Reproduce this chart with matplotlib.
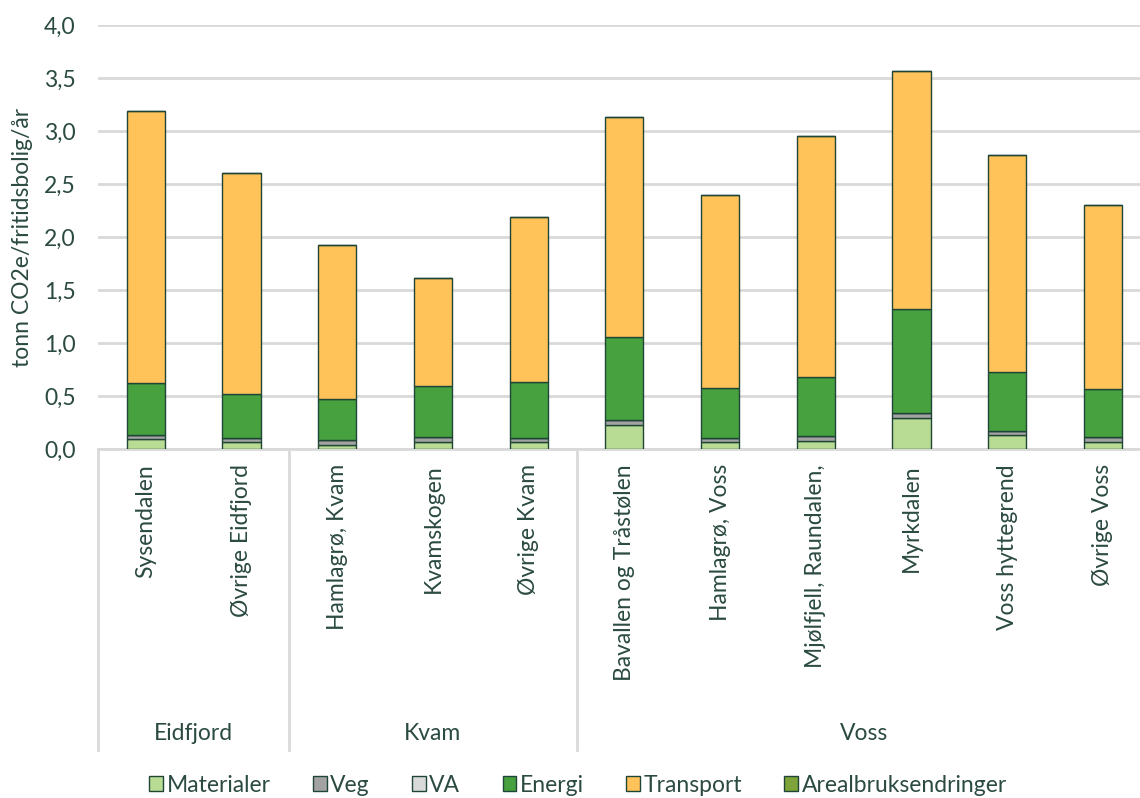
import matplotlib
matplotlib.use("Agg")
import matplotlib.pyplot as plt
import numpy as np
from matplotlib.patches import Patch
from matplotlib.lines import Line2D

plt.rcParams['font.family'] = ['Lato', 'DejaVu Sans']

categories = ["Sysendalen", "Øvrige Eidfjord", "Hamlagrø, Kvam", "Kvamskogen", "Øvrige Kvam",
              "Bavallen og Tråstølen", "Hamlagrø, Voss", "Mjølfjell, Raundalen,", "Myrkdalen",
              "Voss hyttegrend", "Øvrige Voss"]
groups = ["Eidfjord", "Kvam", "Voss"]
group_sizes = [2, 3, 6]

materialer = [0.09, 0.065, 0.04, 0.066, 0.063, 0.226, 0.063, 0.075, 0.29, 0.13, 0.07]
veg        = [0.04, 0.035, 0.045, 0.044, 0.041, 0.044, 0.041, 0.045, 0.047, 0.04, 0.043]
va         = [0.0, 0.0, 0.0, 0.0, 0.0, 0.0, 0.0, 0.0, 0.0, 0.0, 0.0]
energi     = [0.49, 0.42, 0.385, 0.48, 0.526, 0.79, 0.471, 0.56, 0.983, 0.56, 0.457]
transport  = [2.57, 2.08, 1.45, 1.02, 1.56, 2.07, 1.825, 2.27, 2.25, 2.04, 1.73]
areal      = [0.0, 0.0, 0.0, 0.0, 0.0, 0.0, 0.0, 0.0, 0.0, 0.0, 0.0]

series = [("Materialer", materialer, "#B9DC94"),
          ("Veg", veg, "#A3A3A3"),
          ("VA", va, "#D9D9D9"),
          ("Energi", energi, "#47A13F"),
          ("Transport", transport, "#FFC35A"),
          ("Arealbruksendringer", areal, "#7FA23A")]

text_color = "#2B4A42"
edge_color = "#1F4536"
grid_color = "#D9D9D9"
fs = 16.5

fig = plt.figure(figsize=(11.4, 7.98), dpi=100)
ax = fig.add_axes([98/1140, (798-449)/798, 1 - 98/1140, (449-25)/798])

x = np.arange(len(categories))
bottom = np.zeros(len(categories))
for name, vals, col in series:
    vals = np.array(vals)
    ax.bar(x, vals, bottom=bottom, width=0.4, color=col, edgecolor=edge_color, linewidth=1.0, zorder=3)
    bottom += vals

ax.set_ylim(0, 4.0)
ax.set_xlim(-0.5, (1140-98)/95.7 - 0.5)
yt = np.arange(0, 4.01, 0.5)
ax.set_yticks(yt)
ax.set_yticklabels([f"{v:.1f}".replace(".", ",") for v in yt], fontsize=fs, color=text_color)
ax.tick_params(axis='y', length=0, pad=16)
ax.yaxis.grid(True, color=grid_color, linewidth=2, zorder=0)
ax.set_axisbelow(True)
for s in ["top", "right", "left"]:
    ax.spines[s].set_visible(False)
ax.spines["bottom"].set_color(grid_color)
ax.spines["bottom"].set_linewidth(2)

ax.set_xticks([])
ax.set_ylabel("tonn CO2e/fritidsbolig/år", fontsize=fs, color=text_color, labelpad=8)

# category labels
px_per_axes = 424.0
for i, c in enumerate(categories):
    ax.text(i, -(464-449)/px_per_axes, c, rotation=90, ha='center', va='top',
            transform=ax.get_xaxis_transform(), fontsize=fs, color=text_color)

# group separators and labels
bounds = [-0.5]
for gs in group_sizes:
    bounds.append(bounds[-1] + gs)
ybot = -(750-449)/px_per_axes
for b in bounds[:-1]:
    ax.add_line(Line2D([b, b], [0, ybot], transform=ax.get_xaxis_transform(),
                       color=grid_color, linewidth=2, clip_on=False))
for gi, g in enumerate(groups):
    cx = (bounds[gi] + bounds[gi+1]) / 2
    ax.text(cx, -(734-449)/px_per_axes, g, ha='center', va='center',
            transform=ax.get_xaxis_transform(), fontsize=fs, color=text_color)

handles = [Patch(facecolor=col, edgecolor=edge_color, linewidth=1.0) for _, _, col in series]
labels = [n for n, _, _ in series]
fig.legend(handles, labels, loc='center', bbox_to_anchor=(578/1140, 1 - 785/798), ncol=6,
           frameon=False, fontsize=fs, handlelength=0.6, handleheight=0.6, handletextpad=0.15,
           columnspacing=1.85, labelcolor=text_color)

fig.savefig("out.png", dpi=100)
